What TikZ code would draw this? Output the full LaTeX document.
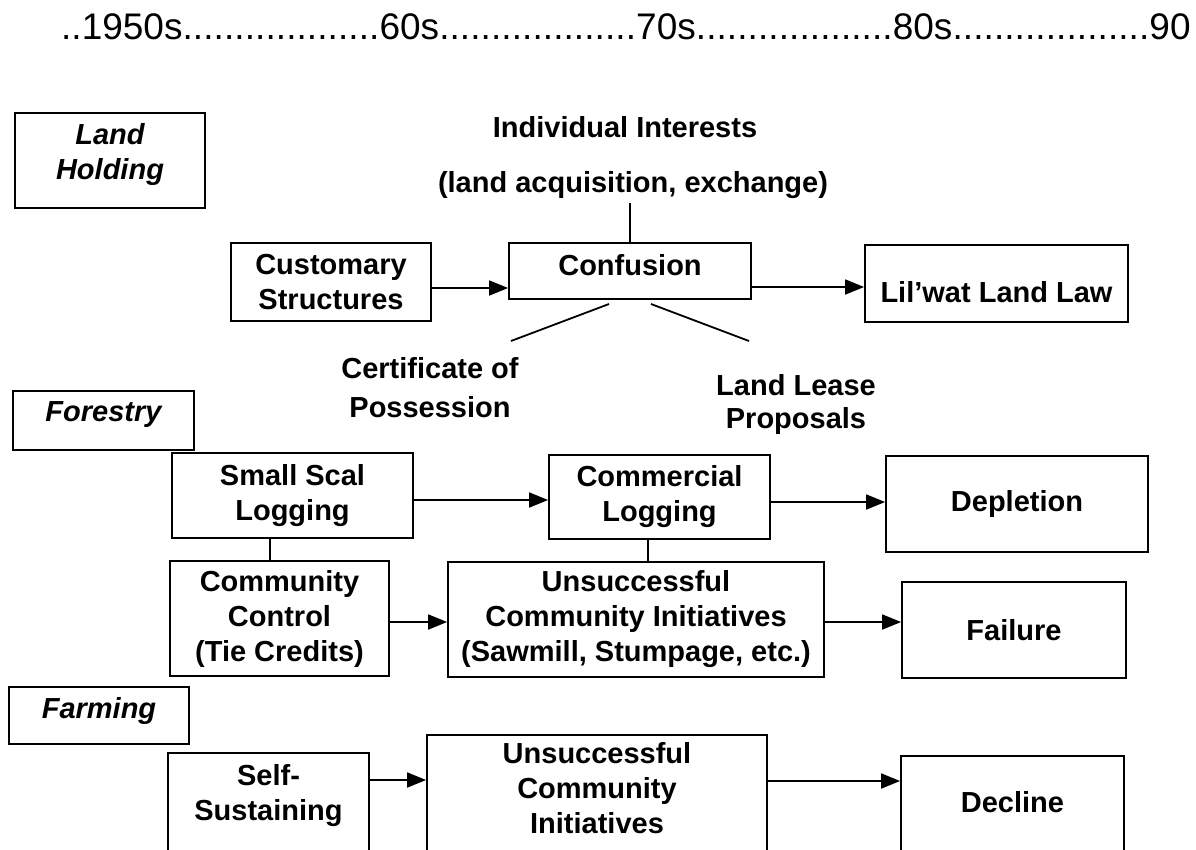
\documentclass[tikz,border=0pt]{standalone}
\usepackage{fontspec}
\setmainfont{Liberation Sans}
\usetikzlibrary{arrows.meta}
\begin{document}
\begin{tikzpicture}[x=1pt,y=-1pt,
  box/.style={draw, line width=1.8pt, inner sep=0pt, align=center, font=\fontsize{29}{35}\selectfont\bfseries},
  lbl/.style={inner sep=0pt, align=center, font=\fontsize{29}{35}\selectfont\bfseries},
  cat/.style={box, font=\fontsize{29}{35}\selectfont\bfseries\itshape},
  arr/.style={line width=1.8pt, -{Triangle[length=19pt,width=15pt]}},
  ln/.style={line width=1.8pt}]
\useasboundingbox (0,0) rectangle (1196,849);
\fill[white] (0,0) rectangle (1196,849);
\clip (0,0) rectangle (1196,849);

% timeline
\node[anchor=base west, inner sep=0pt, font=\fontsize{37}{44}\selectfont] (time) at (61,39)
  {\hbox to 1129pt{..1950s\xleaders\hbox{.}\hfill 60s\xleaders\hbox{.}\hfill 70s\xleaders\hbox{.}\hfill 80s\xleaders\hbox{.}\hfill 90}};

% land holding
\node[cat, minimum width=190pt, minimum height=95pt, text depth=17.4pt] (land) at (110,160.5) {Land\\Holding};
\node[lbl, anchor=base] (indiv) at (625,137) {Individual Interests};
\node[lbl, anchor=base] (acq) at (633,192) {(land acquisition, exchange)};
\node[box, minimum width=200pt, minimum height=78pt] (cust) at (331,282) {Customary\\Structures};
\node[box, minimum width=242pt, minimum height=56pt, text depth=12.4pt] (conf) at (630,271) {Confusion};
\node[box, minimum width=263pt, minimum height=77pt, text height=37pt, text depth=0pt] (lil) at (996.5,283.5) {Lil’wat Land Law};
\node[lbl, anchor=north] (cert) at (430,357) {Certificate of\\[4pt]Possession};
\node[lbl, anchor=north] (lease) at (796,374) {Land Lease\\[-2pt]Proposals};

\draw[ln] (conf.north) -- ++(0,-39);
\coordinate (cl1) at (511,341); \coordinate (cl2) at (609,304);
\coordinate (cr1) at (651,304); \coordinate (cr2) at (749,341);
\draw[ln] (cl1) -- (cl2);
\draw[ln] (cr1) -- (cr2);
\draw[arr] (cust.east |- 0,288) -- (conf.west |- 0,288);
\draw[arr] (conf.east |- 0,287) -- (lil.west |- 0,287);

% forestry
\node[cat, minimum width=181pt, minimum height=59pt, text depth=17.4pt] (forest) at (103.5,420.5) {Forestry};
\node[box, minimum width=241pt, minimum height=85pt] (small) at (292.5,495.5) {Small Scal\\Logging};
\node[box, minimum width=221pt, minimum height=84pt] (comm) at (659.5,497) {Commercial\\Logging};
\node[box, minimum width=262pt, minimum height=96pt] (depl) at (1017,504) {Depletion};
\node[box, minimum width=219pt, minimum height=115pt] (cc) at (279.5,618.5) {Community\\Control\\(Tie Credits)};
\node[box, minimum width=376pt, minimum height=115pt] (saw) at (636,619.5) {Unsuccessful\\Community Initiatives\\(Sawmill, Stumpage, etc.)};
\node[box, minimum width=224pt, minimum height=96pt] (fail) at (1014,630) {Failure};

\draw[arr] (small.east |- 0,500) -- (comm.west |- 0,500);
\draw[arr] (comm.east |- 0,502) -- (depl.west |- 0,502);
\draw[arr] (cc.east |- 0,622) -- (saw.west |- 0,622);
\draw[arr] (saw.east |- 0,622) -- (fail.west |- 0,622);
\draw[ln] (small.south -| 270,0) -- (cc.north -| 270,0);
\draw[ln] (comm.south -| 648,0) -- (saw.north -| 648,0);

% farming
\node[cat, minimum width=180pt, minimum height=57pt, text depth=15.4pt] (farm) at (99,715.5) {Farming};
\node[box, anchor=north, minimum width=201pt, inner ysep=12pt, text depth=43.4pt] (self) at (268.5,752) {Self-\\Sustaining};
\node[box, anchor=north, minimum width=340pt, inner ysep=8pt, text depth=33.4pt] (fu) at (597,734) {Unsuccessful\\Community\\Initiatives};
\node[box, anchor=north, minimum width=223pt, inner ysep=36pt, text depth=26.4pt] (dec) at (1012.5,755) {Decline};

\draw[arr] (self.east |- 0,780) -- (fu.west |- 0,780);
\draw[arr] (fu.east |- 0,781) -- (dec.west |- 0,781);
\end{tikzpicture}
\end{document}
